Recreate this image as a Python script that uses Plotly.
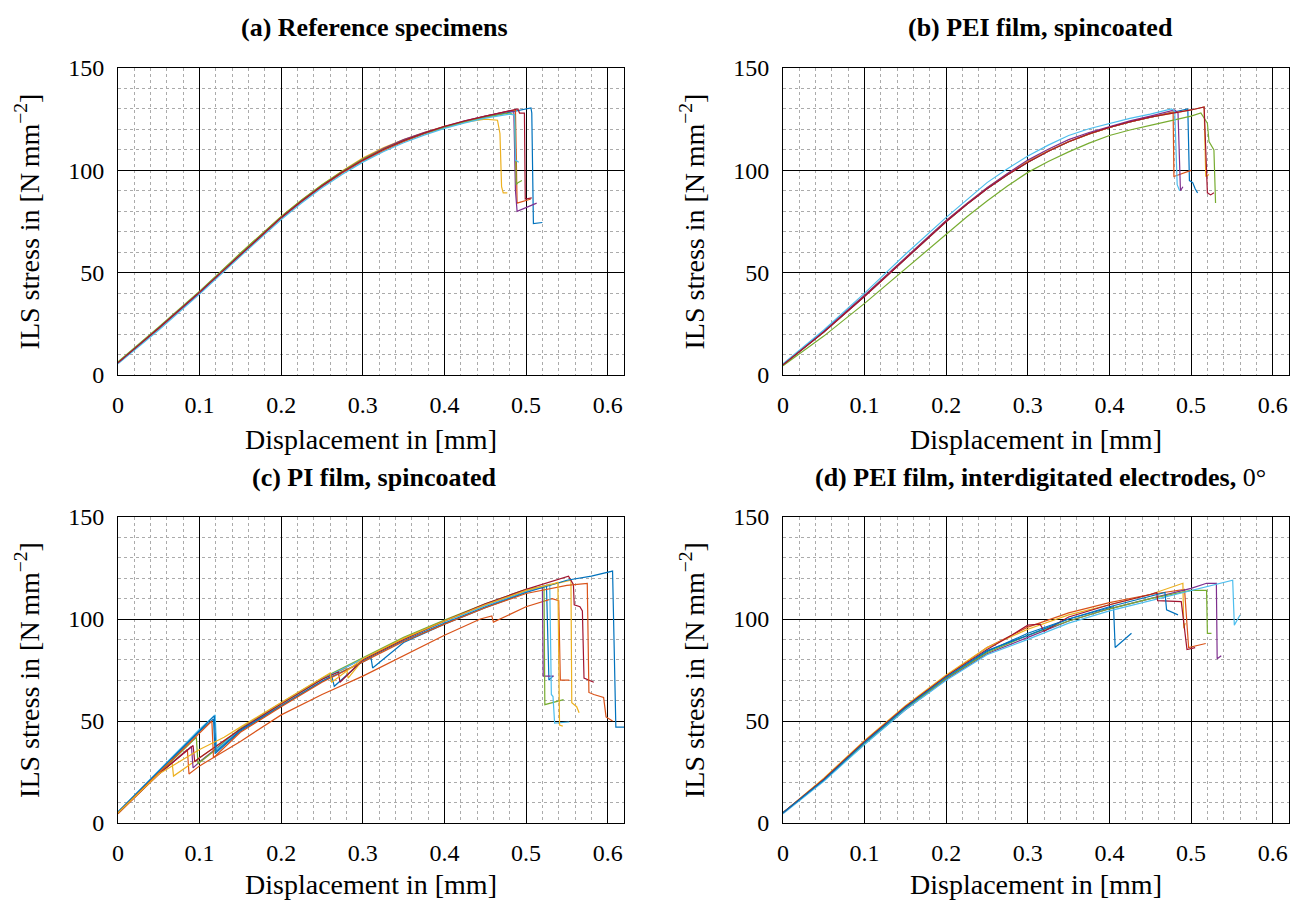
import plotly.graph_objects as go

COLORS = ['#0072BD', '#D95319', '#EDB120', '#7E2F8E', '#77AC30', '#4DBEEE', '#A2142F', '#0072BD', '#D95319', '#EDB120']

TITLES = ['<b>(a) Reference specimens</b>', '<b>(b) PEI film, spincoated</b>',
          '<b>(c) PI film, spincoated</b>', '<b>(d) PEI film, interdigitated electrodes,</b> 0°']
X_TICKS = [0, 0.1, 0.2, 0.3, 0.4, 0.5, 0.6]
X_TICKTEXT = ['0', '0.1', '0.2', '0.3', '0.4', '0.5', '0.6']
Y_TICKS = [0, 50, 100, 150]
Y_TICKTEXT = ['0', '50', '100', '150']
X_TITLE = 'Displacement in [mm]'
Y_TITLE = 'ILS stress in [N\u2009mm<sup>\u22122</sup>]'

# ---------- (a) Reference specimens ----------
A_RISE_X = [0, 0.05, 0.1, 0.15, 0.2, 0.225, 0.25, 0.275, 0.3, 0.325, 0.35, 0.375, 0.4, 0.425, 0.45]
A_RISE_Y = [
    [6, 23, 40.5, 59, 77, 85, 92.5, 99.2, 105, 110.2, 114.5, 118, 121, 123.8, 126],
    [6, 22.5, 40, 58.5, 76.5, 84.5, 92, 98.7, 104.5, 109.6, 114, 117.8, 121, 124, 126.5],
    [6, 23, 40.5, 59.5, 77.5, 85.5, 93, 99.8, 106, 111, 115, 118.5, 121.5, 123.5, 125],
    [6, 23, 40, 59, 77, 85, 92.5, 99.4, 105.5, 110.6, 115, 118.5, 121.5, 124.2, 126.5],
    [6.5, 23.5, 41, 59.5, 77.5, 85.5, 93, 99.6, 105.5, 110.3, 114.5, 118, 121, 123.8, 126],
    [5.5, 22, 39.5, 58, 76, 84, 91.5, 98.1, 104, 109.1, 113.5, 117.2, 120.5, 123.2, 125.5],
    [6, 23, 40.5, 59, 77, 85, 92.5, 99.2, 105, 110.2, 114.5, 118.2, 121.5, 124.2, 126.5],
]
A_TAIL_X = [
    [0.48, 0.5, 0.506, 0.507, 0.509, 0.52],
    [0.48, 0.487, 0.489, 0.506],
    [0.465, 0.468, 0.47, 0.472, 0.477],
    [0.48, 0.485, 0.487, 0.489, 0.513],
    [0.48, 0.486, 0.488, 0.49, 0.495],
    [0.48, 0.486, 0.487, 0.491],
    [0.48, 0.49, 0.492, 0.498, 0.499, 0.507],
]
A_TAIL_Y = [
    [128.5, 130, 130.5, 128, 74, 74.5],
    [129, 129.5, 84, 86],
    [124.5, 118, 92, 89, 89],
    [129, 128.5, 90, 80, 84],
    [128, 127, 93, 94, 95],
    [127.5, 127, 105, 104],
    [129, 130, 128, 128, 86, 86.5],
]

# ---------- (b) PEI film, spincoated ----------
B_RISE_X = [0, 0.05, 0.1, 0.15, 0.2, 0.225, 0.25, 0.275, 0.3, 0.325, 0.35, 0.375, 0.4, 0.425, 0.45]
B_RISE_Y = [
    [5, 21, 38.5, 57, 75, 83.3, 91, 97.8, 104, 109.3, 114, 117.8, 121, 123.7, 126],
    [5, 21, 38.5, 57, 75, 83.3, 91, 97.8, 104, 109.3, 114, 117.8, 121, 123.7, 126],
    [5, 21.5, 39, 57.5, 75.5, 83.7, 91.5, 98.3, 104.5, 109.5, 114, 117.7, 121, 123.7, 126],
    [5, 21.5, 39, 57.5, 75.5, 83.7, 91.5, 98.5, 105, 110.3, 115, 118.5, 121.5, 124.2, 126.5],
    [4.5, 19, 35, 52, 69, 77.2, 85, 92.3, 99, 104.3, 109, 113.3, 117, 119.7, 122],
    [5.5, 22, 40, 59, 77, 85.7, 94, 100.8, 107, 112.3, 117, 120.3, 123, 125.4, 127.5],
    [5, 21, 38.5, 57, 75, 83.3, 91, 97.8, 104, 109.3, 114, 117.8, 121, 123.7, 126],
]
B_TAIL_X = [
    [0.49, 0.496, 0.498, 0.502, 0.505, 0.508],
    [0.478, 0.479, 0.49, 0.5],
    [0.5, 0.516, 0.518, 0.522],
    [0.48, 0.484, 0.487, 0.49],
    [0.5, 0.512, 0.52, 0.522, 0.528, 0.53],
    [0.476, 0.48, 0.483, 0.486],
    [0.5, 0.516, 0.52, 0.524, 0.528],
]
B_TAIL_Y = [
    [129.5, 130, 95, 94, 91, 89],
    [128.5, 97, 98.5, 100],
    [129.5, 131, 97, 98],
    [129.5, 128, 90, 92],
    [126.5, 128, 123, 114, 110, 84],
    [130, 129, 93, 90],
    [129.5, 131, 89, 88, 89],
]

# ---------- (c) PI film, spincoated ----------
C_X = [
    [0, 0.05, 0.1, 0.117, 0.119, 0.15, 0.2, 0.25, 0.262, 0.265, 0.3, 0.35, 0.4, 0.45, 0.5, 0.525, 0.528, 0.533],
    [0, 0.05, 0.085, 0.087, 0.1, 0.15, 0.2, 0.25, 0.3, 0.35, 0.4, 0.444, 0.458, 0.46, 0.5, 0.532, 0.54, 0.542, 0.553],
    [0, 0.05, 0.066, 0.068, 0.1, 0.15, 0.2, 0.25, 0.28, 0.282, 0.3, 0.35, 0.4, 0.45, 0.5, 0.55, 0.555, 0.556, 0.562, 0.565],
    [0, 0.05, 0.09, 0.092, 0.1, 0.15, 0.2, 0.25, 0.3, 0.35, 0.4, 0.45, 0.5, 0.52, 0.521, 0.534],
    [0, 0.05, 0.096, 0.098, 0.12, 0.15, 0.2, 0.25, 0.3, 0.35, 0.4, 0.45, 0.5, 0.522, 0.523, 0.535, 0.546],
    [0, 0.05, 0.1, 0.119, 0.121, 0.15, 0.2, 0.25, 0.3, 0.35, 0.4, 0.45, 0.5, 0.529, 0.531, 0.533, 0.535, 0.553],
    [0, 0.05, 0.092, 0.094, 0.1, 0.15, 0.2, 0.25, 0.27, 0.272, 0.3, 0.35, 0.4, 0.45, 0.5, 0.552, 0.558, 0.559, 0.566, 0.569, 0.571, 0.583],
    [0, 0.05, 0.1, 0.118, 0.12, 0.15, 0.2, 0.25, 0.3, 0.31, 0.312, 0.35, 0.4, 0.45, 0.5, 0.55, 0.58, 0.606, 0.61, 0.62],
    [0, 0.05, 0.1, 0.115, 0.117, 0.15, 0.2, 0.25, 0.3, 0.35, 0.4, 0.45, 0.5, 0.55, 0.575, 0.577, 0.583, 0.595, 0.598, 0.606],
    [0, 0.05, 0.1, 0.13, 0.15, 0.2, 0.25, 0.26, 0.262, 0.3, 0.35, 0.4, 0.45, 0.5, 0.535, 0.539, 0.541, 0.545],
]
C_Y = [
    [5, 25, 45, 51, 34, 45, 57.5, 69.5, 72, 67, 79.5, 89.5, 98, 106, 113.5, 116.5, 70, 72],
    [4.5, 24, 36, 24, 28, 40, 53, 63, 72, 82, 92, 100, 101.5, 98.5, 106, 110, 109, 70, 70],
    [5, 24.5, 31, 23, 32, 46, 58, 70.5, 76, 71, 80, 90, 99, 107, 114, 118.5, 119, 59, 57, 54],
    [5, 24, 37.5, 27, 30, 46, 58.5, 70.5, 80.5, 90.5, 99, 107, 114, 115.5, 72, 72],
    [5, 24.5, 42, 29, 36, 46.5, 59, 71, 81, 91, 99.5, 107.5, 114.5, 116, 58, 59.5, 60.5],
    [5.5, 26, 46, 53, 36, 46, 58.5, 70.5, 80.5, 90, 98.5, 106.5, 113.5, 117, 63, 62, 49, 49.5],
    [5, 24, 38, 30, 32, 46, 58.5, 70.5, 74, 69, 80, 90, 99, 107.5, 114.5, 121, 117, 107, 106, 104, 71, 69],
    [5.5, 25.5, 45.5, 52.5, 35, 45.5, 57.5, 69.5, 79, 81, 76, 88.5, 97.5, 105.5, 113, 119, 121, 123.5, 47, 47],
    [5, 24.5, 44, 50, 32, 44.5, 57, 69, 79, 89, 97.5, 105.5, 112.5, 116.5, 117.5, 64, 63, 61.5, 52, 50],
    [5, 24, 36, 42, 47, 59, 71, 73.5, 69, 80.5, 90.5, 99, 107, 114, 117.5, 118, 48, 47.5],
]

# ---------- (d) PEI film, interdigitated electrodes, 0° ----------
D_RISE_X = [0, 0.05, 0.1, 0.15, 0.2, 0.25]
D_RISE_Y = [
    [5, 21, 39, 56, 71, 84],
    [5, 21.5, 40, 57, 72, 86],
    [5, 22, 40.5, 57.5, 72.5, 86],
    [5, 21, 39, 55.5, 70.5, 83],
    [5, 21, 39, 56, 71, 83.5],
    [4.5, 20.5, 38.5, 55.5, 70, 82.5],
    [5, 21.5, 40, 57, 72, 85],
    [5, 21, 39.5, 56.5, 71.5, 84.5],
]
D_TAIL_X = [
    [0.3, 0.35, 0.4, 0.405, 0.407, 0.415, 0.427],
    [0.3, 0.35, 0.4, 0.45, 0.492, 0.495, 0.497, 0.518],
    [0.3, 0.35, 0.4, 0.45, 0.49, 0.491, 0.493],
    [0.3, 0.35, 0.4, 0.45, 0.5, 0.519, 0.531, 0.532, 0.537],
    [0.3, 0.35, 0.4, 0.45, 0.5, 0.515, 0.519, 0.52, 0.525],
    [0.3, 0.35, 0.4, 0.45, 0.5, 0.53, 0.551, 0.553, 0.56],
    [0.28, 0.3, 0.315, 0.32, 0.35, 0.4, 0.45, 0.458, 0.459, 0.488, 0.495, 0.505],
    [0.3, 0.35, 0.4, 0.45, 0.468, 0.47, 0.478, 0.484],
]
D_TAIL_Y = [
    [93, 100, 105.5, 106, 86, 89, 93],
    [96, 103, 108, 112, 114.5, 98, 86, 88],
    [95, 102, 107, 112, 117.5, 95.5, 98],
    [91, 99, 105, 110, 115, 117.5, 117.5, 80.5, 82],
    [92, 99, 105, 110, 114, 114, 114, 93, 93],
    [90, 98, 104, 109, 114, 117, 119, 97, 102],
    [92, 97, 97.5, 94, 101, 107, 112, 113, 109, 108.5, 85, 86],
    [92, 100, 106, 111, 113, 104.5, 103, 102],
]

FONT = 'Liberation Serif'
OFF = 8                      # page body margin in the browser
W, H = 1299 - OFF, 900 - OFF
# plot-area boxes in window pixels (left, right, top, bottom)
BOXES = [(118, 624, 68, 375), (783, 1289, 68, 375), (118, 624, 517, 823), (783, 1289, 517, 823)]

fig = go.Figure()

def add_curves(idx, xs, ys):
    sfx = '' if idx == 0 else str(idx + 1)
    for k, (x, y) in enumerate(zip(xs, ys)):
        fig.add_trace(go.Scatter(x=x, y=y, mode='lines', xaxis='x' + sfx, yaxis='y' + sfx,
                                 line=dict(color=COLORS[k % len(COLORS)], width=1.2),
                                 showlegend=False, hoverinfo='skip'))

add_curves(0, [A_RISE_X + t for t in A_TAIL_X], [r + t for r, t in zip(A_RISE_Y, A_TAIL_Y)])
add_curves(1, [B_RISE_X + t for t in B_TAIL_X], [r + t for r, t in zip(B_RISE_Y, B_TAIL_Y)])
add_curves(2, C_X, C_Y)
add_curves(3, [D_RISE_X + t for t in D_TAIL_X], [r + t for r, t in zip(D_RISE_Y, D_TAIL_Y)])

layout = dict(width=W, height=H, margin=dict(l=0, r=0, t=0, b=0, autoexpand=False),
              paper_bgcolor='white', plot_bgcolor='white',
              font=dict(family=FONT, size=24, color='black'), annotations=[])

def px_x(p):
    return (p - OFF) / W

def px_y(p):
    return 1 - (p - OFF) / H

for i, (l, r, t, b) in enumerate(BOXES):
    sfx = '' if i == 0 else str(i + 1)
    common = dict(showline=True, linecolor='black', linewidth=1, mirror=True,
                  zeroline=False, showgrid=True, gridcolor='black', gridwidth=1,
                  ticks='', tickfont=dict(family=FONT, size=24, color='black'),
                  ticklabelstandoff=8, automargin=False)
    layout['xaxis' + sfx] = dict(common, domain=[px_x(l), px_x(r)], anchor='y' + sfx,
                                 range=[0, 0.62], tickvals=X_TICKS, ticktext=X_TICKTEXT,
                                 minor=dict(tickvals=[v / 100 for v in range(0, 63, 2)], showgrid=True,
                                            gridcolor='#ababab', griddash='dot', gridwidth=1),
                                 title=dict(text=X_TITLE, font=dict(family=FONT, size=28), standoff=12))
    layout['yaxis' + sfx] = dict(common, domain=[px_y(b), px_y(t)], anchor='x' + sfx,
                                 range=[0, 150], tickvals=Y_TICKS, ticktext=Y_TICKTEXT,
                                 minor=dict(tickvals=list(range(0, 151, 10)), showgrid=True,
                                            gridcolor='#ababab', griddash='dot', gridwidth=1),
                                 title=dict(text=Y_TITLE, font=dict(family=FONT, size=28), standoff=20))
    layout['annotations'].append(dict(text=TITLES[i], xref='paper', yref='paper',
                                      x=px_x((l + r) / 2 + 4), y=px_y(t - 40),
                                      xanchor='center', yanchor='middle', showarrow=False,
                                      font=dict(family=FONT, size=26, color='black')))

fig.update_layout(**layout)
fig.write_html('out.html')
